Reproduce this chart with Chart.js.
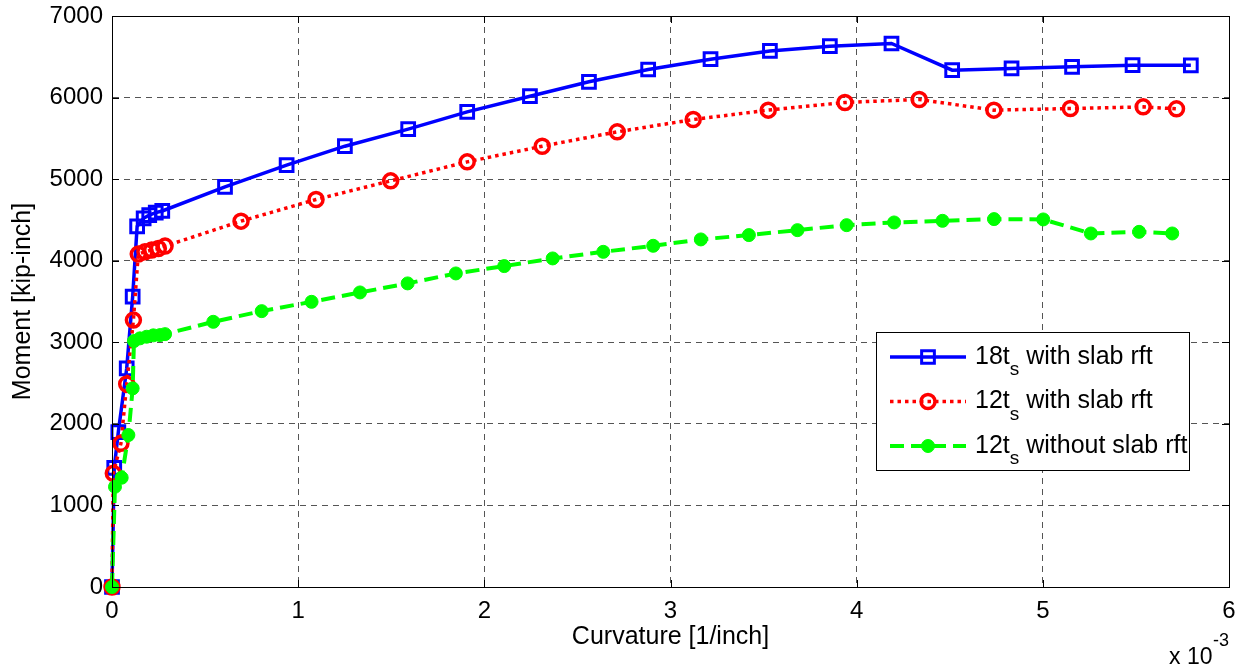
<!DOCTYPE html>
<html>
<head>
<meta charset="utf-8">
<script src="https://cdn.jsdelivr.net/npm/chart.js@4.4.1/dist/chart.umd.min.js"></script>
<style>
  html, body { margin: 0; padding: 0; background: #fff; }
  #wrap { width: 1244px; height: 668px; }
</style>
</head>
<body>
<div id="wrap"><canvas id="chart" width="1244" height="668"></canvas></div>
<script>
// curvature in units of 1e-3 1/inch, moment in kip-inch
const blueX = [0, 0.012, 0.034, 0.079, 0.111, 0.135, 0.17, 0.2, 0.235, 0.27, 0.607, 0.938, 1.251, 1.591, 1.908, 2.245, 2.562, 2.88, 3.215, 3.534, 3.856, 4.187, 4.513, 4.832, 5.157, 5.482, 5.795];
const blueY = [0, 1460, 1900, 2680, 3560, 4420, 4520, 4560, 4590, 4610, 4906, 5172, 5404, 5613, 5825, 6017, 6193, 6344, 6471, 6572, 6630, 6663, 6336, 6357, 6377, 6397, 6395];

const redX = [0, 0.007, 0.048, 0.079, 0.115, 0.141, 0.177, 0.213, 0.249, 0.285, 0.693, 1.096, 1.497, 1.908, 2.311, 2.714, 3.122, 3.525, 3.937, 4.336, 4.737, 5.148, 5.539, 5.718];
const redY = [0, 1393, 1761, 2488, 3272, 4081, 4109, 4130, 4150, 4179, 4485, 4751, 4979, 5212, 5404, 5580, 5731, 5846, 5940, 5977, 5846, 5866, 5886, 5862];

const greenX = [0, 0.016, 0.052, 0.088, 0.111, 0.118, 0.15, 0.186, 0.222, 0.258, 0.285, 0.544, 0.804, 1.072, 1.332, 1.588, 1.847, 2.107, 2.367, 2.639, 2.907, 3.163, 3.421, 3.682, 3.946, 4.201, 4.461, 4.738, 5.002, 5.258, 5.517, 5.695];
const greenY = [0, 1229, 1340, 1863, 2435, 3015, 3048, 3068, 3085, 3088, 3100, 3251, 3382, 3496, 3611, 3722, 3844, 3934, 4028, 4109, 4183, 4261, 4314, 4375, 4436, 4469, 4489, 4510, 4506, 4334, 4354, 4334];

const seriesNames = [["18t", "s", " with slab rft"], ["12t", "s", " with slab rft"], ["12t", "s", " without slab rft"]];
const xTicks = [0, 1, 2, 3, 4, 5, 6];
const yTicks = [0, 1000, 2000, 3000, 4000, 5000, 6000, 7000];

const FONT = "'Liberation Sans', Arial, sans-serif";
const toPoints = (xs, ys) => xs.map((x, i) => ({ x, y: ys[i] }));

// box around plot, inward ticks, legend, exponent label
const matlabAxes = {
  id: "matlabAxes",
  afterDraw(chart) {
    const { ctx, chartArea: a, scales: { x, y } } = chart;
    ctx.save();
    ctx.strokeStyle = "#000";
    ctx.lineWidth = 1;
    ctx.setLineDash([]);
    ctx.strokeRect(a.left + 0.5, a.top + 0.5, a.right - a.left, a.bottom - a.top);
    ctx.beginPath();
    xTicks.forEach(v => {
      const px = Math.round(x.getPixelForValue(v)) + 0.5;
      ctx.moveTo(px, a.bottom); ctx.lineTo(px, a.bottom - 7);
      ctx.moveTo(px, a.top); ctx.lineTo(px, a.top + 7);
    });
    yTicks.forEach(v => {
      const py = Math.round(y.getPixelForValue(v)) + 0.5;
      ctx.moveTo(a.left, py); ctx.lineTo(a.left + 7, py);
      ctx.moveTo(a.right, py); ctx.lineTo(a.right - 7, py);
    });
    ctx.stroke();

    // legend
    const lx = 876, ly = 332, lw = 313, lh = 138;
    ctx.fillStyle = "#fff";
    ctx.fillRect(lx, ly, lw, lh);
    ctx.strokeRect(lx + 0.5, ly + 0.5, lw, lh);
    chart.data.datasets.forEach((ds, i) => {
      const cy = 357 + i * 44.5;
      ctx.strokeStyle = ds.borderColor;
      ctx.lineWidth = ds.borderWidth;
      ctx.setLineDash(ds.borderDash || []);
      ctx.beginPath(); ctx.moveTo(890, cy); ctx.lineTo(966, cy); ctx.stroke();
      ctx.setLineDash([]);
      ctx.lineWidth = ds.pointBorderWidth;
      ctx.strokeStyle = ds.pointBorderColor;
      ctx.fillStyle = ds.pointBackgroundColor;
      const r = ds.pointRadius;
      ctx.beginPath();
      if (ds.pointStyle === "rect") {
        const h = r * Math.SQRT1_2;
        ctx.rect(928 - h, cy - h, 2 * h, 2 * h);
      } else ctx.arc(928, cy, r, 0, Math.PI * 2);
      ctx.fill(); ctx.stroke();
      const [a1, sub, rest] = seriesNames[i];
      ctx.fillStyle = "#000";
      ctx.textBaseline = "middle";
      ctx.textAlign = "left";
      ctx.font = "25px " + FONT;
      ctx.fillText(a1, 975, cy);
      let w = ctx.measureText(a1).width;
      ctx.font = "19px " + FONT;
      ctx.fillText(sub, 975 + w, cy + 13);
      w += ctx.measureText(sub).width;
      ctx.font = "25px " + FONT;
      ctx.fillText(rest, 975 + w, cy);
    });

    // exponent
    ctx.fillStyle = "#000";
    ctx.textBaseline = "alphabetic";
    ctx.textAlign = "left";
    ctx.font = "23px " + FONT;
    ctx.fillText("x 10", 1169, 664);
    ctx.font = "18px " + FONT;
    ctx.fillText("-3", 1213, 646);
    ctx.restore();
  }
};

new Chart(document.getElementById("chart"), {
  type: "line",
  data: {
    datasets: [
      {
        label: "18ts with slab rft",
        data: toPoints(blueX, blueY),
        borderColor: "#0000ff",
        borderWidth: 3.5,
        pointStyle: "rect",
        pointRadius: 9,
        pointBorderWidth: 3,
        pointBorderColor: "#0000ff",
        pointBackgroundColor: "rgba(0,0,0,0)",
        clip: false,
        order: 2
      },
      {
        label: "12ts with slab rft",
        data: toPoints(redX, redY),
        borderColor: "#ff0000",
        borderWidth: 3.5,
        borderDash: [3.5, 4],
        pointStyle: "circle",
        pointRadius: 7,
        pointBorderWidth: 3.5,
        pointBorderColor: "#ff0000",
        pointBackgroundColor: "rgba(0,0,0,0)",
        clip: false,
        order: 1
      },
      {
        label: "12ts without slab rft",
        data: toPoints(greenX, greenY),
        borderColor: "#00ff00",
        borderWidth: 4,
        borderDash: [14, 7],
        pointStyle: "circle",
        pointRadius: 6.5,
        pointBorderWidth: 1,
        pointBorderColor: "#00ff00",
        pointBackgroundColor: "#00ff00",
        clip: false,
        order: 0
      }
    ]
  },
  options: {
    responsive: false,
    animation: false,
    events: [],
    layout: { padding: { top: 16, right: 15, left: 0, bottom: 0 } },
    plugins: { legend: { display: false }, tooltip: { enabled: false } },
    scales: {
      x: {
        type: "linear",
        min: 0,
        max: 6,
        afterFit: s => { s.height = 81; s.paddingLeft = 0; s.paddingRight = 0; },
        afterBuildTicks: s => { s.ticks = xTicks.map(v => ({ value: v })); },
        ticks: { color: "#000", font: { family: FONT, size: 24 }, padding: 10, maxRotation: 0, callback: v => String(v) },
        grid: { color: "#555", lineWidth: 1, drawTicks: false },
        border: { display: true, color: "#000", dash: [6, 5] },
        title: { display: true, text: "Curvature [1/inch]", color: "#000", font: { family: FONT, size: 25 }, padding: { top: 0, bottom: 16 } }
      },
      y: {
        type: "linear",
        min: 0,
        max: 7000,
        afterFit: s => { s.width = 112; s.paddingTop = 0; s.paddingBottom = 0; },
        afterBuildTicks: s => { s.ticks = yTicks.map(v => ({ value: v })); },
        ticks: { color: "#000", font: { family: FONT, size: 24 }, padding: 9, callback: v => String(v) },
        grid: { color: "#555", lineWidth: 1, drawTicks: false },
        border: { display: true, color: "#000", dash: [6, 5] },
        title: { display: true, text: "Moment [kip-inch]", color: "#000", font: { family: FONT, size: 25 }, padding: { top: 8, bottom: 0 } }
      }
    }
  },
  plugins: [matlabAxes]
});
</script>
</body>
</html>
